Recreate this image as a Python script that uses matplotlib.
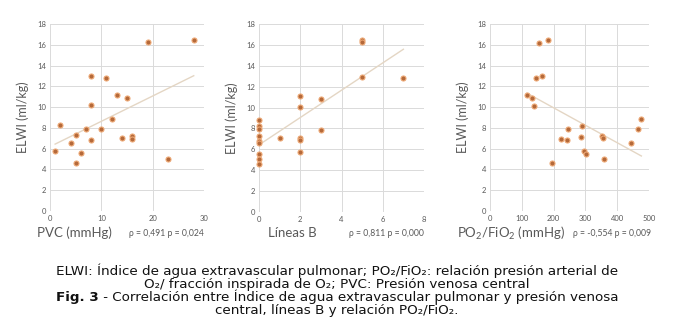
import numpy as np
import matplotlib
matplotlib.use('Agg')
import matplotlib.pyplot as plt

plt.rcParams['font.family'] = ['Lato', 'DejaVu Sans']
plt.rcParams['mathtext.fontset'] = 'custom'
plt.rcParams['mathtext.rm'] = 'Lato'

# ELWI (ml/kg) against each predictor
pvc = [1, 2, 4, 5, 5, 6, 7, 8, 8, 8, 10, 11, 12, 13, 14, 15, 16, 16, 19, 23, 28]
elwi_pvc = [5.75, 8.26, 6.53, 7.27, 4.66, 5.56, 7.85, 12.96, 10.16, 6.85, 7.85,
            12.83, 8.87, 11.13, 7.07, 10.87, 7.2, 6.95, 16.27, 5.05, 16.46]

lineas_b = [0, 0, 0, 0, 0, 0, 0, 0, 0, 1, 2, 2, 2, 2, 2, 3, 3, 5, 5, 5, 7]
elwi_lb = [8.82, 8.22, 7.9, 7.23, 6.78, 6.56, 5.51, 5.03, 4.62, 7.04, 11.1,
           10.1, 7.13, 6.94, 5.73, 10.86, 7.83, 16.5, 16.27, 12.96, 12.87]

pafi = [116, 132, 139, 144, 153, 162, 181, 196, 222, 241, 246, 288, 287, 295,
        302, 353, 356, 358, 442, 464, 476]
elwi_pafi = [11.13, 10.85, 10.11, 12.83, 16.2, 12.95, 16.47, 4.61, 6.93, 6.8,
             7.85, 8.2, 7.12, 5.73, 5.53, 7.25, 7.06, 5.05, 6.52, 7.85, 8.84]

xlabels = ['PVC (mmHg)', 'Líneas B', r'PO$_2$/FiO$_2$ (mmHg)']
stats = ['ρ = 0,491 p = 0,024', 'ρ = 0,811 p = 0,000', 'ρ = -0,554 p = 0,009']
xlims = [(0, 30), (0, 8), (0, 500)]
xsteps = [10, 2, 100]

MARKER = '#B4693A'
MARKER_EDGE = '#EDA875'
TREND = '#E4D6C4'
GRID = '#DADADA'
TXT = '#595959'

fig = plt.figure(figsize=(6.74, 3.30), dpi=100)
W, H = 674, 330
boxes = [(50, 24, 204, 211), (259, 24, 424, 212), (490, 24, 649, 211)]
label_x = [37, 268, 457]
stat_x = [204, 424, 651]

data = [(pvc, elwi_pvc), (lineas_b, elwi_lb), (pafi, elwi_pafi)]
for i, ((x, y), (l, t, r, b)) in enumerate(zip(data, boxes)):
    ax = fig.add_axes([l / W, 1 - b / H, (r - l) / W, (b - t) / H])
    x = np.array(x, float)
    y = np.array(y, float)
    # least-squares trend line over the data range
    k, c = np.polyfit(x, y, 1)
    xs = np.array([x.min(), x.max()])
    ax.plot(xs, k * xs + c, color=TREND, lw=1.0, zorder=2)
    ax.plot(x, y, 'o', ms=3.6, mfc=MARKER, mec=MARKER_EDGE, mew=0.8,
            zorder=3, clip_on=False)
    ax.set_xlim(*xlims[i])
    ax.set_ylim(0, 18)
    ax.set_xticks(np.arange(xlims[i][0], xlims[i][1] + 1, xsteps[i]))
    ax.set_yticks(np.arange(0, 19, 2))
    ax.grid(True, color=GRID, lw=0.7)
    ax.set_axisbelow(True)
    for s in ax.spines.values():
        s.set_visible(False)
    ax.tick_params(length=0, labelsize=5.5, colors=TXT, pad=3)
    ax.set_ylabel('ELWI (ml/kg)', fontsize=9, color=TXT, labelpad=6)
    fig.text(label_x[i] / W, 1 - 233 / H, xlabels[i],
             fontsize=9.5, color=TXT, va='center', ha='left')
    fig.text(stat_x[i] / W, 1 - 233 / H, stats[i], fontsize=6.2, color=TXT,
             va='center', ha='right')

# figure caption, one text per line; "Fig. 3" set in bold
cap = dict(family=['DejaVu Sans'], fontsize=9.7, color='#111111',
           va='baseline')
base = [275, 288, 301, 314]
fig.text(0.5, 1 - base[0] / H,
         'ELWI: Índice de agua extravascular pulmonar; PO₂/FiO₂: relación presión arterial de',
         ha='center', **cap)
fig.text(0.5, 1 - base[1] / H,
         'O₂/ fracción inspirada de O₂; PVC: Presión venosa central',
         ha='center', **cap)
fig_lbl = fig.text(0, 1 - base[2] / H, 'Fig. 3', ha='left', fontweight='bold', **cap)
rest = fig.text(0, 1 - base[2] / H,
                ' - Correlación entre Índice de agua extravascular pulmonar y presión venosa',
                ha='left', **cap)
fig.text(0.5, 1 - base[3] / H, 'central, líneas B y relación PO₂/FiO₂.',
         ha='center', **cap)

renderer = fig.canvas.get_renderer()
w1 = fig_lbl.get_window_extent(renderer).width
w2 = rest.get_window_extent(renderer).width
x0 = (W - w1 - w2) / 2
fig_lbl.set_x(x0 / W)
rest.set_x((x0 + w1) / W)

fig.savefig('out.png', dpi=100, facecolor='white')
